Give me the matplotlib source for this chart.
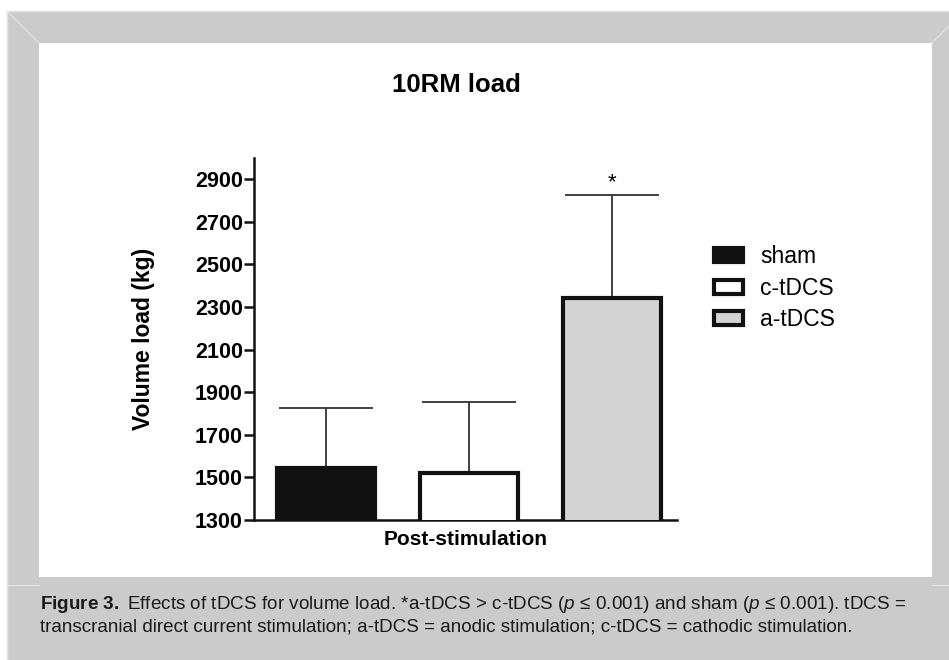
import numpy as np
import matplotlib.pyplot as plt
from matplotlib.patches import Rectangle, Patch

groups = ['sham', 'c-tDCS', 'a-tDCS']
means = [1544, 1521, 2342]
sds = [283, 331, 484]
fills = ['#111111', '#ffffff', '#d3d3d3']
yticks = [1300, 1500, 1700, 1900, 2100, 2300, 2500, 2700, 2900]

W, H = 949, 660

plt.rcParams['font.family'] = ['Liberation Sans', 'DejaVu Sans']
plt.rcParams['mathtext.fontset'] = 'custom'
plt.rcParams['mathtext.rm'] = 'Liberation Sans'
plt.rcParams['mathtext.it'] = 'Liberation Sans:italic'
plt.rcParams['mathtext.bf'] = 'Liberation Sans:bold'


def box(x0, y0, x1, y1):
    # pixel box (top-left origin) -> figure fraction rect
    return [x0 / W, 1 - y1 / H, (x1 - x0) / W, (y1 - y0) / H]


fig = plt.figure(figsize=(W / 100, H / 100), dpi=100)

# grey frame around the white panel
bg = fig.add_axes([0, 0, 1, 1], zorder=-1)
bg.set_xlim(0, W)
bg.set_ylim(H, 0)
bg.axis('off')
bg.add_patch(Rectangle((7, 11), W - 7, H - 11, color='#cbcbcb', lw=0))
bg.add_patch(Rectangle((39, 43), 893, 534, color='white', lw=0))
light = '#e2e2e2'
bg.plot([7, W], [11, 11], color=light, lw=1)
bg.plot([7, 7], [11, H], color=light, lw=1)
bg.plot([7, 39], [11, 43], color=light, lw=0.8)
bg.plot([W, 932], [26, 43], color=light, lw=0.8)
bg.plot([7, 39], [585, 585], color=light, lw=0.8)
bg.plot([932, W], [585, 585], color=light, lw=0.8)

ax = fig.add_axes(box(254, 157.7, 677, 520))
x = np.arange(len(groups))
ax.bar(x, means, width=0.685, color=fills, edgecolor='#111111', linewidth=3, zorder=3)
ax.errorbar(x, means, yerr=[np.zeros(len(sds)), sds], fmt='none', ecolor='#333333',
            elinewidth=1.3, capsize=34, capthick=1.3, zorder=2)
ax.annotate('*', (x[2], means[2] + sds[2]), xytext=(0, 1), textcoords='offset points',
            ha='center', va='bottom', fontsize=16)

ax.set_xlim(-0.503, 2.455)
ax.set_ylim(1300, 3000)
ax.set_yticks(yticks)
ax.set_xticks([])
for s in ['top', 'right']:
    ax.spines[s].set_visible(False)
for s in ['left', 'bottom']:
    ax.spines[s].set_linewidth(1.8)
    ax.spines[s].set_color('#111111')
ax.tick_params(axis='y', length=7, width=1.8, color='#111111', labelsize=15.5, pad=1)
for lab in ax.get_yticklabels():
    lab.set_fontweight('bold')

ax.set_ylabel('Volume load (kg)', fontsize=16.5, fontweight='bold')
ax.yaxis.set_label_coords(-0.234, 0.5)
ax.set_xlabel('Post-stimulation', fontsize=15, fontweight='bold')
ax.xaxis.set_label_coords(0.5, -0.028)

fig.text(456 / W, 1 - 85 / H, '10RM load', fontsize=18.5, fontweight='bold',
         ha='center', va='center')

handles = [Patch(facecolor=f, edgecolor='#111111', linewidth=3, label=g)
           for f, g in zip(fills, groups)]
fig.legend(handles=handles, loc='upper left', bbox_to_anchor=(714 / W, 1 - 245 / H),
           frameon=False, fontsize=16.5, handlelength=1.27, handleheight=0.57,
           handletextpad=0.75, labelspacing=0.38, borderpad=0, borderaxespad=0)

line1 = (r'$\mathbf{Figure\ 3.}$ Effects of tDCS for volume load. *a-tDCS > c-tDCS '
         r'($\mathit{p}$ ≤ 0.001) and sham ($\mathit{p}$ ≤ 0.001). tDCS =')
line2 = 'transcranial direct current stimulation; a-tDCS = anodic stimulation; c-tDCS = cathodic stimulation.'
fig.text(40 / W, 1 - 609 / H, line1, fontsize=13.6, va='baseline', color='#1a1a1a')
fig.text(40 / W, 1 - 632 / H, line2, fontsize=13.6, va='baseline', color='#1a1a1a')

fig.savefig('out.png', dpi=100)
